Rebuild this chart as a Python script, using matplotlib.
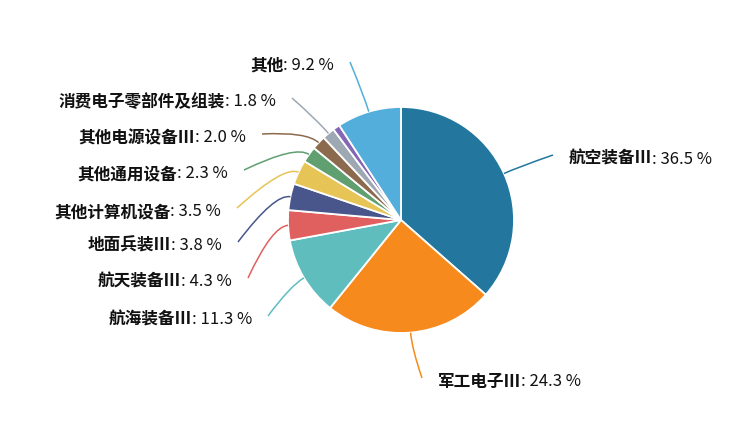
import numpy as np
import matplotlib
matplotlib.use("Agg")
import matplotlib.pyplot as plt
from matplotlib.path import Path
from matplotlib.patches import PathPatch

plt.rcParams['font.family'] = ['Noto Sans CJK SC', 'DejaVu Sans']

names = ['航空装备Ⅲ', '军工电子Ⅲ', '航海装备Ⅲ', '航天装备Ⅲ', '地面兵装Ⅲ',
         '其他计算机设备', '其他通用设备', '其他电源设备Ⅲ', '消费电子零部件及组装',
         '', '其他']
values = [36.5, 24.3, 11.3, 4.3, 3.8, 3.5, 2.3, 2.0, 1.8, 1.0, 9.2]
colors = ['#23779f', '#f78a1d', '#5fbdbe', '#e06060', '#48568b', '#e6c455',
          '#5f9f70', '#8c6a4e', '#9ea8b3', '#8467b5', '#53aedc']

# label line end points (pixel coords, y from top)
label_ends = [(553, 155), (422, 378), (268, 316), (248, 278), (238, 242),
              (237, 208), (244, 170), (262, 134), (292, 98), None, (350, 62)]

W, H = 755, 433
cx, cy, R = 401, H - 220, 113

fig = plt.figure(figsize=(7.55, 4.33), dpi=100)
ax = fig.add_axes([0, 0, 1, 1])
ax.set_xlim(0, W)
ax.set_ylim(0, H)
ax.axis('off')

wedges, _ = ax.pie(values, colors=colors, startangle=90, counterclock=False,
                   center=(cx, cy), radius=R,
                   wedgeprops=dict(edgecolor='white', linewidth=1.3))
ax.set_xlim(0, W)
ax.set_ylim(0, H)

for w, name, val, col, end in zip(wedges, names, values, colors, label_ends):
    if end is None:
        continue
    mid = np.deg2rad((w.theta1 + w.theta2) / 2)
    d = np.array([np.cos(mid), np.sin(mid)])
    p0 = np.array([cx, cy]) + R * d
    p1 = np.array([cx, cy]) + (R + 16) * d
    p2 = np.array([end[0], H - end[1]])
    path = Path([p0, p1, p2], [Path.MOVETO, Path.CURVE3, Path.CURVE3])
    ax.add_patch(PathPatch(path, fill=False, edgecolor=col, lw=1.1))
    vtxt = ': %.1f %%' % val
    if p2[0] > cx:
        t = ax.text(p2[0] + 16, p2[1] - 4, name, ha='left', va='center',
                    fontsize=12, fontweight='bold', color='#111111')
        ax.annotate(vtxt, xy=(1, 0.5), xycoords=t, ha='left', va='center',
                    fontsize=12, color='#111111')
    else:
        t = ax.text(p2[0] - 16, p2[1] - 4, vtxt, ha='right', va='center',
                    fontsize=12, color='#111111')
        ax.annotate(name, xy=(0, 0.5), xycoords=t, ha='right', va='center',
                    fontsize=12, fontweight='bold', color='#111111')

fig.savefig('out.png', dpi=100)
